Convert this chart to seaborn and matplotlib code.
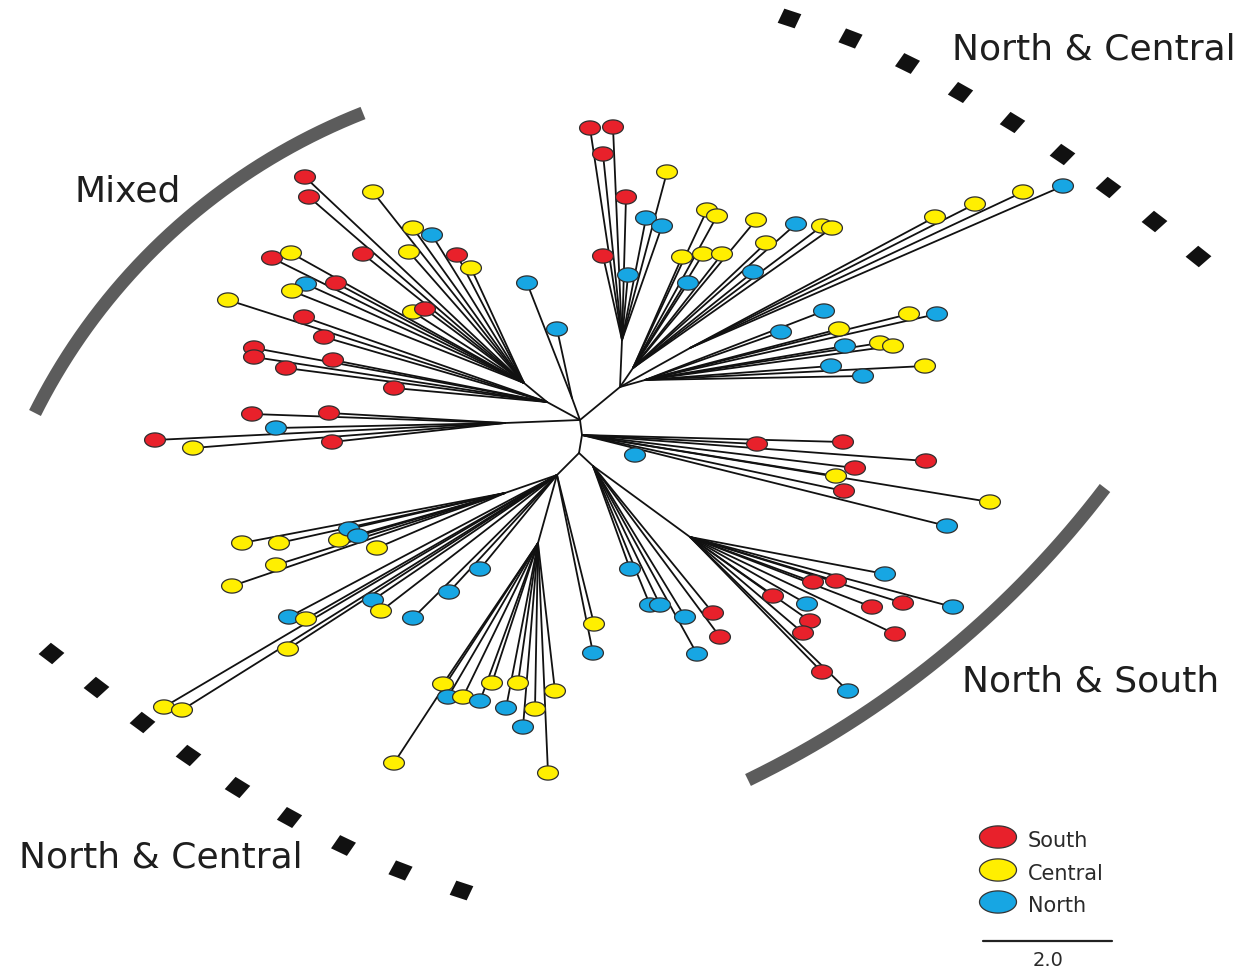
import numpy as np
import pandas as pd
import matplotlib
matplotlib.use("Agg")
import matplotlib.pyplot as plt
from matplotlib.path import Path
from matplotlib.markers import MarkerStyle
from matplotlib.transforms import Affine2D
import seaborn as sns

sns.set_theme(style="white")
plt.rcParams["font.family"] = ["DejaVu Sans"]

# ---------------------------------------------------------------------------
# Internal nodes of the unrooted tree (layout units, y grows downward)
node_names = ["c0", "c1", "c2", "w", "nwB", "nwA", "b", "ne0", "n", "ne1",
              "ne2", "ne3", "se", "se1", "sw", "sw1", "sw2"]
node_x = [580, 582, 579, 505, 547, 524, 572, 620, 622, 633, 690, 645, 593, 690, 557, 538, 505]
node_y = [420, 435, 453, 423, 402, 383, 398, 387, 340, 368, 348, 380, 466, 537, 475, 543, 493]
node_parent = [None, "c0", "c1", "c0", "c0", "nwB", "c0", "c0", "ne0", "ne0",
               "ne0", "ne0", "c2", "se", "c2", "sw", "sw"]

# Leaves: position, sampling region and attaching node
leaf_x = [
    252, 329, 276, 332, 155, 193,                                   # w
    305, 309, 373, 413, 432, 409, 457, 471, 363, 272, 291, 336, 306, 292, 413, 425,  # nwA
    228, 304, 324, 254, 254, 333, 286, 394,                         # nwB
    527, 557,                                                       # b
    590, 613, 603, 626, 603, 628, 646, 662, 667,                    # n
    707, 717, 682, 703, 722, 688, 756, 766, 753, 796, 822, 832,     # ne1
    935, 975, 1023, 1063,                                           # ne2
    824, 781, 839, 845, 880, 893, 831, 863, 925, 909, 937,          # ne3
    757, 843, 926, 855, 836, 844, 990, 947,                         # c1
    635,                                                            # unattached
    630, 650, 660, 685, 713, 720, 697,                              # se
    773, 807, 813, 836, 885, 810, 803, 872, 903, 895, 953, 822, 848,  # se1
    594, 593, 480, 449, 413, 373, 381, 289, 306, 288, 164, 182,     # sw
    242, 279, 339, 349, 358, 377, 276, 232,                         # sw2
    443, 448, 463, 480, 492, 518, 506, 535, 523, 555, 394, 548,     # sw1
]
leaf_y = [
    414, 413, 428, 442, 440, 448,
    177, 197, 192, 228, 235, 252, 255, 268, 254, 258, 253, 283, 284, 291, 312, 309,
    300, 317, 337, 348, 357, 360, 368, 388,
    283, 329,
    128, 127, 154, 197, 256, 275, 218, 226, 172,
    210, 216, 257, 254, 254, 283, 220, 243, 272, 224, 226, 228,
    217, 204, 192, 186,
    311, 332, 329, 346, 343, 346, 366, 376, 366, 314, 314,
    444, 442, 461, 468, 476, 491, 502, 526,
    455,
    569, 605, 605, 617, 613, 637, 654,
    596, 604, 582, 581, 574, 621, 633, 607, 603, 634, 607, 672, 691,
    624, 653, 569, 592, 618, 600, 611, 617, 619, 649, 707, 710,
    543, 543, 540, 529, 536, 548, 565, 586,
    684, 697, 697, 701, 683, 683, 708, 709, 727, 691, 763, 773,
]
leaf_region = list(
    "SSNSSC"
    "SSCCNCSCSSCSNCCS"
    "CSSSSSSS"
    "NN"
    "SSSSSNNNC"
    "CCCCCNCCNNCC"
    "CCCN"
    "NNCNCCNNCCN"
    "SSSSCSCN"
    "N"
    "NNNNSSN"
    "SNSSNSSSSSNSN"
    "CNNNNNCNCCCC"
    "CCCNNCCC"
    "CNCNCCNCNCCC"
)
leaf_parent = (["w"] * 6 + ["nwA"] * 16 + ["nwB"] * 8 + ["b"] * 2 + ["n"] * 9
               + ["ne1"] * 12 + ["ne2"] * 4 + ["ne3"] * 11 + ["c1"] * 8 + [None]
               + ["se"] * 7 + ["se1"] * 13 + ["sw"] * 12 + ["sw2"] * 8 + ["sw1"] * 12)

region_names = {"S": "South", "C": "Central", "N": "North"}
region_order = ["South", "Central", "North"]
region_colors = {"South": "#E8212B", "Central": "#FFEF00", "North": "#17A6E3"}

# Clade brackets and dotted boundaries
mixed_arc = [(363, 113), (153, 250), (35, 413)]
ns_arc = [(1105, 488), (965, 637), (748, 780)]
ne_diamond_x = [789, 850, 907, 960, 1012, 1062, 1108, 1154, 1198]
ne_diamond_y = [18, 38, 63, 92, 122, 154, 187, 221, 256]
sw_diamond_x = [51, 96, 142, 188, 237, 289, 343, 400, 461]
sw_diamond_y = [653, 687, 722, 755, 787, 817, 845, 870, 890]

clade_labels = ["Mixed", "North & Central", "North & South", "North & Central"]
clade_label_x = [128, 1094, 1091, 161]
clade_label_y = [202, 59, 692, 867]

scale_value = "2.0"

# ---------------------------------------------------------------------------
leaves = pd.DataFrame({
    "x": leaf_x, "y": leaf_y,
    "region": [region_names[r] for r in leaf_region],
    "parent": leaf_parent,
})
nodes = pd.DataFrame({"x": node_x, "y": node_y, "parent": node_parent}, index=node_names)

# Build branch segments (child -> parent)
rows = []
eid = 0
for name, r in nodes.iterrows():
    if r["parent"] is None:
        continue
    p = nodes.loc[r["parent"]]
    rows += [(eid, r["x"], r["y"]), (eid, p["x"], p["y"])]
    eid += 1
for _, r in leaves.iterrows():
    if r["parent"] is None:
        continue
    p = nodes.loc[r["parent"]]
    rows += [(eid, r["x"], r["y"]), (eid, p["x"], p["y"])]
    eid += 1
edges = pd.DataFrame(rows, columns=["edge", "x", "y"])

fig = plt.figure(figsize=(12.56, 9.68), dpi=100)
ax = fig.add_axes([0, 0, 1, 1])

sns.lineplot(data=edges, x="x", y="y", units="edge", estimator=None, sort=False,
             color="#111111", linewidth=1.3, ax=ax, zorder=2)

theta = np.linspace(0, 2 * np.pi, 60)
ellipse = Path(np.column_stack([np.cos(theta), 0.68 * np.sin(theta)]), closed=True)

sns.scatterplot(data=leaves, x="x", y="y", hue="region", hue_order=region_order,
                palette=region_colors, marker=ellipse, s=225, edgecolor="#2e2e2e",
                linewidth=0.9, legend=False, ax=ax, zorder=3)


def arc_points(p1, p2, p3, n=200):
    (x1, y1), (x2, y2), (x3, y3) = p1, p2, p3
    d = 2 * (x1 * (y2 - y3) + x2 * (y3 - y1) + x3 * (y1 - y2))
    ux = ((x1**2 + y1**2) * (y2 - y3) + (x2**2 + y2**2) * (y3 - y1) + (x3**2 + y3**2) * (y1 - y2)) / d
    uy = ((x1**2 + y1**2) * (x3 - x2) + (x2**2 + y2**2) * (x1 - x3) + (x3**2 + y3**2) * (x2 - x1)) / d
    rad = np.hypot(x1 - ux, y1 - uy)
    a1, a2, a3 = [np.arctan2(y - uy, x - ux) for x, y in (p1, p2, p3)]
    e3 = (a3 - a1) % (2 * np.pi)
    e2 = (a2 - a1) % (2 * np.pi)
    span = e3 if e2 < e3 else e3 - 2 * np.pi
    t = a1 + np.linspace(0, span, n)
    return ux + rad * np.cos(t), uy + rad * np.sin(t)


for arc in (mixed_arc, ns_arc):
    ax_, ay_ = arc_points(*arc)
    ax.plot(ax_, ay_, color="#5c5c5c", linewidth=9.5, solid_capstyle="butt", zorder=1)

# Square dots along each boundary, turned with the boundary and widened
stretch = 1.2
for dx_list, dy_list in ((ne_diamond_x, ne_diamond_y), (sw_diamond_x, sw_diamond_y)):
    gx = np.gradient(np.asarray(dx_list, float))
    gy = np.gradient(np.asarray(dy_list, float))
    for x, y, tx, ty in zip(dx_list, dy_list, gx, gy):
        ang = np.degrees(np.arctan2(-ty, tx / stretch))
        m = MarkerStyle("s", transform=Affine2D().rotate_deg(ang).scale(stretch, 1.0))
        ax.scatter([x], [y], marker=m, s=120, color="#111111", linewidths=0, zorder=2)

for lab, x, y in zip(clade_labels, clade_label_x, clade_label_y):
    ax.text(x, y, lab, ha="center", va="baseline", fontsize=26, color="#1e1e1e")

# Legend
legend_y = [837, 870, 902]
legend_df = pd.DataFrame({"x": [998] * 3, "y": legend_y, "region": region_order})
sns.scatterplot(data=legend_df, x="x", y="y", hue="region", hue_order=region_order,
                palette=region_colors,
                marker=Path(np.column_stack([np.cos(theta), 0.6 * np.sin(theta)]), closed=True),
                s=710, edgecolor="#333333", linewidth=0.9, legend=False, ax=ax, zorder=3)
for name, y in zip(region_order, legend_y):
    ax.text(1028, y + 10, name, ha="left", va="baseline", fontsize=15, color="#2a2a2a")

# Scale bar
ax.plot([983, 1112], [941, 941], color="#222222", linewidth=1.6)
ax.text(1048, 966, scale_value, ha="center", va="baseline", fontsize=14, color="#2a2a2a")

ax.set_xlim(0, 1256)
ax.set_ylim(968, 0)
ax.axis("off")
fig.savefig("out.png", dpi=100, facecolor="white")
